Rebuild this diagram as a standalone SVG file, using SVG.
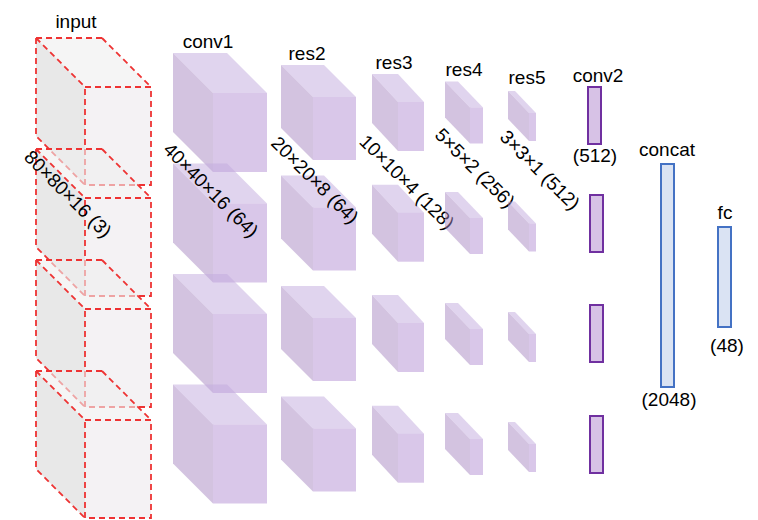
<svg xmlns="http://www.w3.org/2000/svg" xmlns:xlink="http://www.w3.org/1999/xlink" width="758" height="520" viewBox="0 0 758 520">
<style>
text{font-family:"Liberation Sans",Arial,sans-serif;font-size:19px;fill:#000}
.c{text-anchor:middle}
.in-side{fill:#d9d9d9;fill-opacity:0.6}
.in-top{fill:#efefef;fill-opacity:0.6}
.in-front{fill:#ede9ed;fill-opacity:0.6}
.in-edge{fill:none;stroke:#ee3333;stroke-width:1.8;stroke-dasharray:6 4}
.p-side{fill:#a787c1;fill-opacity:0.5}
.p-top{fill:#c1a9dd;fill-opacity:0.5}
.p-front{fill:#b38fd3;fill-opacity:0.5}
.bar-p{fill:#d7c2e6;stroke:#7030a0;stroke-width:2}
.bar-b{fill:#dae3f3;stroke:#4472c4;stroke-width:2}
</style>
<defs>
<g id="cube-in">
<polygon class="in-side" points="0,0 49,49 49,147 0,98"/>
<polygon class="in-top" points="0,0 66,0 115,49 49,49"/>
<rect class="in-front" x="49" y="49" width="66" height="98"/>
<path class="in-edge" d="M0,0H66M0,0V98L49,147M0,0L49,49M66,0L115,49"/>
<rect class="in-edge" x="49" y="49" width="66" height="98"/>
</g>
<g id="cube-c1">
<polygon class="p-side" points="0,0 40,40 40,119 0,79"/>
<polygon class="p-top" points="0,0 54,0 94,40 40,40"/>
<rect class="p-front" x="40" y="40" width="54" height="79"/>
</g>
<g id="cube-r2">
<polygon class="p-side" points="0,0 32,32 32,95 0,63"/>
<polygon class="p-top" points="0,0 43,0 75,32 32,32"/>
<rect class="p-front" x="32" y="32" width="43" height="63"/>
</g>
<g id="cube-r3">
<polygon class="p-side" points="0,0 26,28 26,77 0,49"/>
<polygon class="p-top" points="0,0 26,0 52,28 26,28"/>
<rect class="p-front" x="26" y="28" width="26" height="49"/>
</g>
<g id="cube-r4">
<polygon class="p-side" points="0,0 25,26 25,62 0,36"/>
<polygon class="p-top" points="0,0 13,0 38,26 25,26"/>
<rect class="p-front" x="25" y="26" width="13" height="36"/>
</g>
<g id="cube-r5">
<polygon class="p-side" points="0,0 21,22 21,50 0,28"/>
<polygon class="p-top" points="0,0 7,0 28,22 21,22"/>
<rect class="p-front" x="21" y="22" width="7" height="28"/>
</g>
</defs>

<g id="input">
<text class="c" x="76" y="28">input</text>
<use xlink:href="#cube-in" href="#cube-in" x="36" y="38"/>
<use xlink:href="#cube-in" href="#cube-in" x="36" y="149"/>
<use xlink:href="#cube-in" href="#cube-in" x="36" y="260"/>
<use xlink:href="#cube-in" href="#cube-in" x="36" y="371"/>
<text class="c" transform="translate(68,194) rotate(45)" dy="0.35em">80×80×16 (3)</text>
</g>

<g id="conv1">
<text class="c" x="208" y="48">conv1</text>
<use href="#cube-c1" x="173" y="53"/>
<use href="#cube-c1" x="173" y="163.5"/>
<use href="#cube-c1" x="173" y="274"/>
<use href="#cube-c1" x="173" y="384.5"/>
<text class="c" transform="translate(211,190) rotate(45)" dy="0.35em">40×40×16 (64)</text>
</g>

<g id="res2">
<text class="c" x="307" y="60">res2</text>
<use href="#cube-r2" x="281" y="65"/>
<use href="#cube-r2" x="281" y="175.5"/>
<use href="#cube-r2" x="281" y="286"/>
<use href="#cube-r2" x="281" y="396.5"/>
<text class="c" transform="translate(315,180) rotate(45)" dy="0.35em">20×20×8 (64)</text>
</g>

<g id="res3">
<text class="c" x="394" y="69">res3</text>
<use href="#cube-r3" x="372" y="74"/>
<use href="#cube-r3" x="372" y="184.7"/>
<use href="#cube-r3" x="372" y="295"/>
<use href="#cube-r3" x="372" y="405.7"/>
<text class="c" transform="translate(407,182) rotate(45)" dy="0.35em">10×10×4 (128)</text>
</g>

<g id="res4">
<text class="c" x="464" y="76">res4</text>
<use href="#cube-r4" x="445" y="81.5"/>
<use href="#cube-r4" x="445" y="192"/>
<use href="#cube-r4" x="445" y="303"/>
<use href="#cube-r4" x="445" y="413"/>
<text class="c" transform="translate(475,168) rotate(45)" dy="0.35em">5×5×2 (256)</text>
</g>

<g id="res5">
<text class="c" x="527" y="84">res5</text>
<use href="#cube-r5" x="508" y="91"/>
<use href="#cube-r5" x="508" y="201.5"/>
<use href="#cube-r5" x="508" y="312"/>
<use href="#cube-r5" x="508" y="422"/>
<text class="c" transform="translate(540,170) rotate(45)" dy="0.35em">3×3×1 (512)</text>
</g>

<g id="conv2">
<text class="c" x="598" y="82">conv2</text>
<rect class="bar-p" x="588" y="87" width="13" height="57"/>
<rect class="bar-p" x="590" y="195" width="13" height="57"/>
<rect class="bar-p" x="590" y="305" width="13" height="57"/>
<rect class="bar-p" x="590" y="416" width="13" height="57"/>
<text class="c" x="595" y="162">(512)</text>
</g>

<g id="concat">
<text class="c" x="667" y="156">concat</text>
<rect class="bar-b" x="661" y="164" width="13" height="223"/>
<text class="c" x="669" y="406">(2048)</text>
</g>

<g id="fc">
<text class="c" x="725" y="219">fc</text>
<rect class="bar-b" x="718" y="227" width="13" height="100"/>
<text class="c" x="727" y="352">(48)</text>
</g>

<g id="connectors"/>
</svg>
